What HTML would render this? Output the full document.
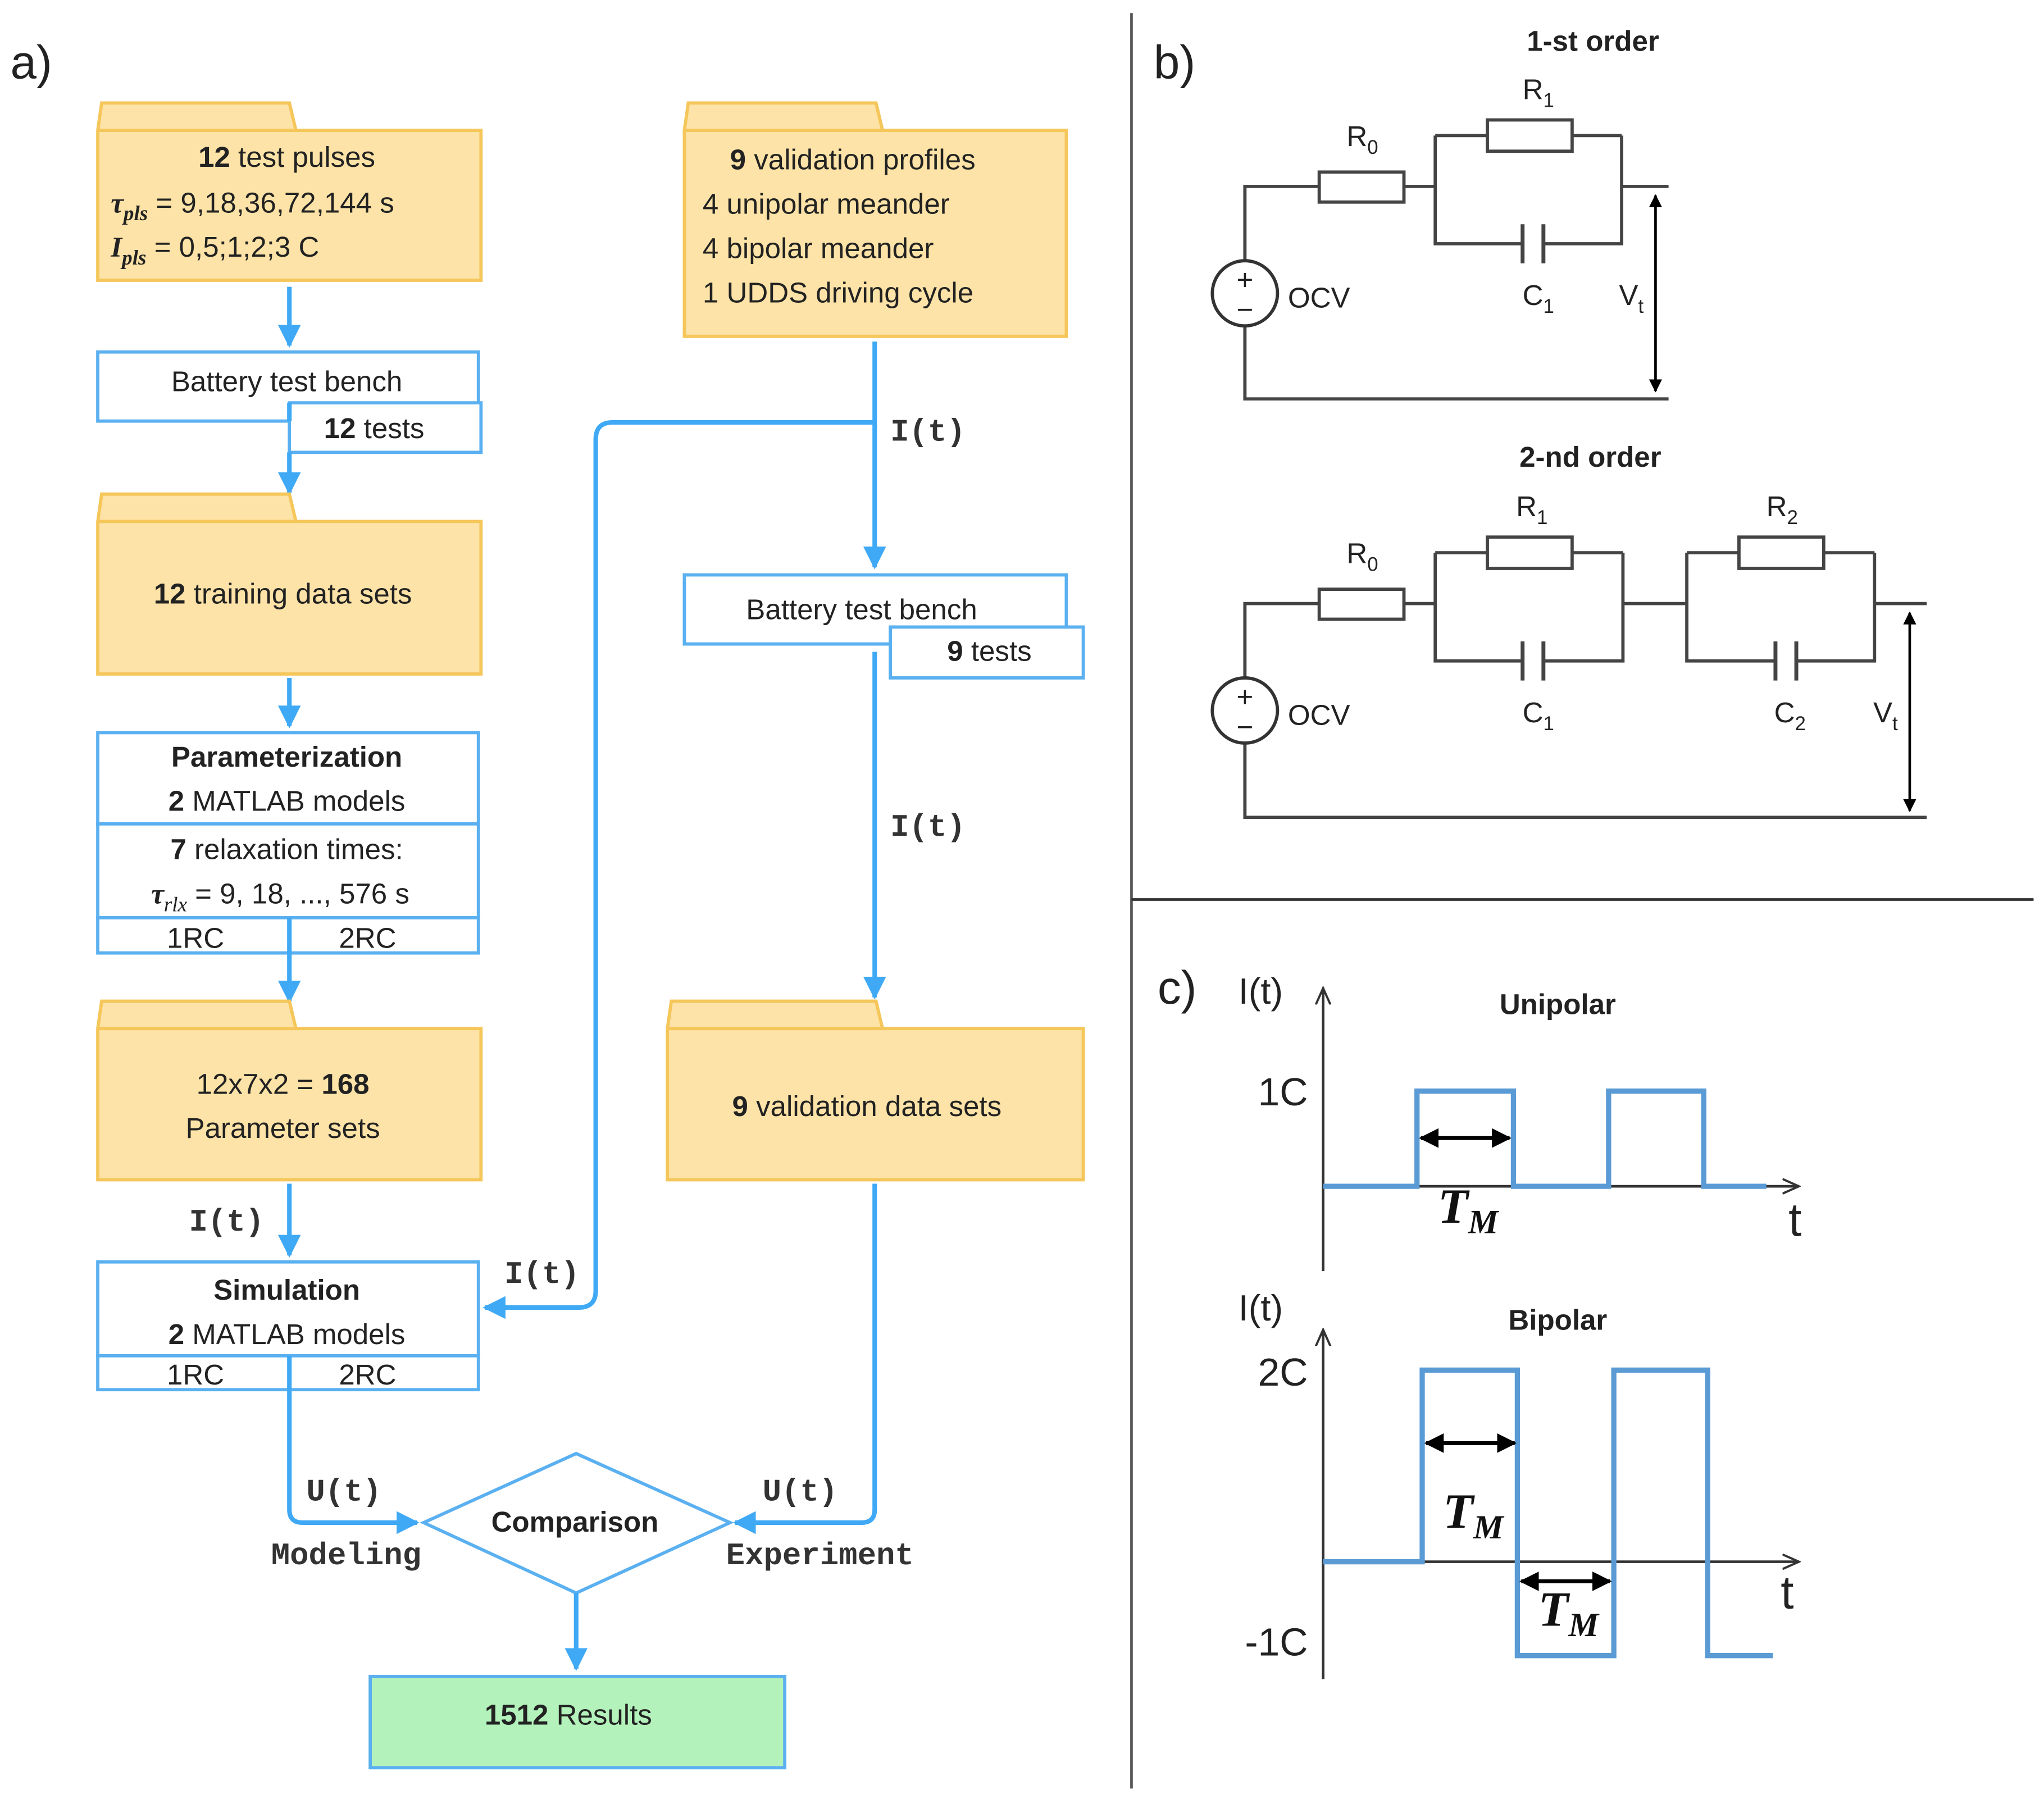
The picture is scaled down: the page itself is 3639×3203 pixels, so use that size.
<!DOCTYPE html>
<html><head><meta charset="utf-8"><style>
html,body{margin:0;padding:0;background:#fff}
svg{display:block}
text{font-family:"Liberation Sans",sans-serif;fill:#222}
.t{font-size:22px;text-anchor:middle}
.b{font-weight:bold}
.m{font-family:"Liberation Mono",monospace;font-size:24px;font-weight:bold;fill:#333}
.f{fill:#fde3a7;stroke:#f5c65a;stroke-width:2.5}
.bx{fill:#fff;stroke:#5ab0f0;stroke-width:2.5}
.ln{fill:none;stroke:#3fa9f5;stroke-width:3.5}
.w{fill:none;stroke:#444;stroke-width:2.5}
.sig{fill:none;stroke:#5b9bd5;stroke-width:4}
.tm{font-family:"Liberation Serif",serif;font-style:italic;font-weight:bold;font-size:38px;fill:#111}
.tms{font-family:"Liberation Serif",serif;font-style:italic;font-weight:bold;font-size:26px;fill:#111}
</style></head><body>
<svg width="3639" height="3203" viewBox="0 0 1568 1380" preserveAspectRatio="none" xmlns="http://www.w3.org/2000/svg">
<defs>
<marker id="ab" viewBox="0 0 10 10" refX="9" refY="5" markerWidth="5" markerHeight="5" orient="auto"><path d="M0,0 L10,5 L0,10 z" fill="#3fa9f5"/></marker>
<marker id="ak" viewBox="0 0 10 10" refX="9" refY="5" markerWidth="5" markerHeight="5" orient="auto-start-reverse"><path d="M0,0 L10,5 L0,10 z" fill="#000"/></marker>
<marker id="ao" viewBox="0 0 10 10" refX="9" refY="5" markerWidth="7" markerHeight="7" orient="auto"><path d="M0,1 L9,5 L0,9" fill="none" stroke="#333" stroke-width="1.2"/></marker>
</defs>
<rect width="1568" height="1380" fill="#fff"/>
<text x="8" y="60" style="font-size:36px">a)</text>
<text x="885" y="60" style="font-size:36px">b)</text>
<text x="888" y="770" style="font-size:36px">c)</text>
<line x1="868" y1="10" x2="868" y2="1372" stroke="#555" stroke-width="2"/>
<line x1="868" y1="690" x2="1560" y2="690" stroke="#333" stroke-width="2"/>

<!-- Folder 1 -->
<path class="f" d="M75,100 L78,79 L222,79 L227,100 L369,100 L369,215 L75,215 Z"/>
<line x1="75" y1="100" x2="227" y2="100" stroke="#f5c65a" stroke-width="2.5"/>
<text class="t" x="220" y="128"><tspan class="b">12</tspan> test pulses</text>
<text x="85" y="163" style="font-size:22px"><tspan style="font-family:'Liberation Serif',serif;font-style:italic;font-weight:bold">τ</tspan><tspan style="font-family:'Liberation Serif',serif;font-style:italic;font-weight:bold;font-size:16px" dy="6">pls</tspan><tspan dy="-6"> = 9,18,36,72,144 s</tspan></text>
<text x="85" y="197" style="font-size:22px"><tspan style="font-family:'Liberation Serif',serif;font-style:italic;font-weight:bold">I</tspan><tspan style="font-family:'Liberation Serif',serif;font-style:italic;font-weight:bold;font-size:16px" dy="6">pls</tspan><tspan dy="-6"> = 0,5;1;2;3 C</tspan></text>
<line class="ln" x1="222" y1="220" x2="222" y2="265" marker-end="url(#ab)"/>

<rect class="bx" x="75" y="270" width="292" height="53"/>
<text class="t" x="220" y="300">Battery test bench</text>
<rect class="bx" x="222" y="309" width="147" height="38"/>
<text class="t" x="287" y="336"><tspan class="b">12</tspan> tests</text>
<line class="ln" x1="222" y1="347" x2="222" y2="378" marker-end="url(#ab)"/>
<line class="ln" x1="222" y1="323" x2="222" y2="309"/>

<path class="f" d="M75,400 L78,379 L222,379 L227,400 L369,400 L369,517 L75,517 Z"/>
<line x1="75" y1="400" x2="227" y2="400" stroke="#f5c65a" stroke-width="2.5"/>
<text class="t" x="217" y="463"><tspan class="b">12</tspan> training data sets</text>
<line class="ln" x1="222" y1="520" x2="222" y2="557" marker-end="url(#ab)"/>

<rect class="bx" x="75" y="562" width="292" height="70"/>
<text class="t b" x="220" y="588">Parameterization</text>
<text class="t" x="220" y="622"><tspan class="b">2</tspan> MATLAB models</text>
<rect class="bx" x="75" y="632" width="292" height="72"/>
<text class="t" x="220" y="659"><tspan class="b">7</tspan> relaxation times:</text>
<text class="t" x="215" y="693"><tspan style="font-family:'Liberation Serif',serif;font-style:italic;font-weight:bold">τ</tspan><tspan style="font-family:'Liberation Serif',serif;font-style:italic;font-size:16px" dy="6">rlx</tspan><tspan dy="-6"> = 9, 18, ..., 576 s</tspan></text>
<rect class="bx" x="75" y="704" width="292" height="27"/>
<text class="t" x="150" y="727">1RC</text><text class="t" x="282" y="727">2RC</text>
<line class="ln" x1="222" y1="704" x2="222" y2="768" marker-end="url(#ab)"/>

<path class="f" d="M75,789 L78,768 L222,768 L227,789 L369,789 L369,905 L75,905 Z"/>
<line x1="75" y1="789" x2="227" y2="789" stroke="#f5c65a" stroke-width="2.5"/>
<text class="t" x="217" y="839">12x7x2 = <tspan class="b">168</tspan></text>
<text class="t" x="217" y="873">Parameter sets</text>
<line class="ln" x1="222" y1="908" x2="222" y2="963" marker-end="url(#ab)"/>
<text class="m" x="145" y="944">I(t)</text>

<rect class="bx" x="75" y="968" width="292" height="72"/>
<text class="t b" x="220" y="997">Simulation</text>
<text class="t" x="220" y="1031"><tspan class="b">2</tspan> MATLAB models</text>
<rect class="bx" x="75" y="1040" width="292" height="26"/>
<text class="t" x="150" y="1062">1RC</text><text class="t" x="282" y="1062">2RC</text>
<path class="ln" d="M222,1040 L222,1158 Q222,1168 232,1168 L320,1168" marker-end="url(#ab)"/>
<text class="m" x="235" y="1151">U(t)</text>
<text class="m" x="208" y="1200">Modeling</text>

<polygon points="325,1168 442,1115 560,1168 442,1222" fill="#fff" stroke="#5ab0f0" stroke-width="2.5"/>
<text class="t b" x="441" y="1175">Comparison</text>
<line class="ln" x1="442" y1="1222" x2="442" y2="1280" marker-end="url(#ab)"/>
<rect x="284" y="1286" width="318" height="70" fill="#b3f2bb" stroke="#5ab0f0" stroke-width="2.5"/>
<text class="t" x="436" y="1323"><tspan class="b">1512</tspan> Results</text>

<!-- right column -->
<path class="f" d="M525,100 L528,79 L672,79 L677,100 L818,100 L818,258 L525,258 Z"/>
<line x1="525" y1="100" x2="677" y2="100" stroke="#f5c65a" stroke-width="2.5"/>
<text x="560" y="130" style="font-size:22px"><tspan class="b">9</tspan> validation profiles</text>
<text x="539" y="164" style="font-size:22px">4 unipolar meander</text>
<text x="539" y="198" style="font-size:22px">4 bipolar meander</text>
<text x="539" y="232" style="font-size:22px">1 UDDS driving cycle</text>
<line class="ln" x1="671" y1="262" x2="671" y2="435" marker-end="url(#ab)"/>
<text class="m" x="683" y="338">I(t)</text>
<path class="ln" d="M671,324 L470,324 Q457,324 457,337 L457,990 Q457,1003 444,1003 L372,1003" marker-end="url(#ab)"/>
<text class="m" x="387" y="984">I(t)</text>

<rect class="bx" x="525" y="441" width="293" height="53"/>
<text class="t" x="661" y="475">Battery test bench</text>
<rect class="bx" x="683" y="481" width="148" height="39"/>
<text class="t" x="759" y="507"><tspan class="b">9</tspan> tests</text>
<line class="ln" x1="671" y1="500" x2="671" y2="765" marker-end="url(#ab)"/>
<text class="m" x="683" y="641">I(t)</text>

<path class="f" d="M512,789 L515,768 L672,768 L677,789 L831,789 L831,905 L512,905 Z"/>
<line x1="512" y1="789" x2="677" y2="789" stroke="#f5c65a" stroke-width="2.5"/>
<text class="t" x="665" y="856"><tspan class="b">9</tspan> validation data sets</text>
<path class="ln" d="M671,908 L671,1158 Q671,1168 661,1168 L564,1168" marker-end="url(#ab)"/>
<text class="m" x="585" y="1151">U(t)</text>
<text class="m" x="557" y="1200">Experiment</text>

<!-- 1st order circuit -->
<text class="t b" x="1222" y="39">1-st order</text>
<path class="w" d="M955,200 L955,143 L1012,143 M1077,143 L1101,143 M1101,104 L1141,104 M1206,104 L1244,104 M1101,104 L1101,187 L1168,187 M1184,187 L1244,187 L1244,104 M1244,143 L1280,143 M955,250 L955,306 L1280,306"/>
<rect x="1012" y="132" width="65" height="23" fill="#fff" stroke="#444" stroke-width="2.5"/>
<rect x="1141" y="92" width="65" height="24" fill="#fff" stroke="#444" stroke-width="2.5"/>
<line x1="1168" y1="172" x2="1168" y2="202" stroke="#444" stroke-width="3"/>
<line x1="1184" y1="172" x2="1184" y2="202" stroke="#444" stroke-width="3"/>
<circle cx="955" cy="225" r="25" fill="#fff" stroke="#333" stroke-width="2.5"/>
<text x="955" y="222" class="t" style="font-size:22px">+</text>
<text x="955" y="245" class="t" style="font-size:22px">−</text>
<line x1="1270" y1="150" x2="1270" y2="300" stroke="#000" stroke-width="2" marker-start="url(#ak)" marker-end="url(#ak)"/>
<text x="988" y="236" style="font-size:22px">OCV</text>
<text x="1033" y="112" style="font-size:22px">R<tspan dy="6" font-size="15">0</tspan></text>
<text x="1168" y="76" style="font-size:22px">R<tspan dy="6" font-size="15">1</tspan></text>
<text x="1168" y="234" style="font-size:22px">C<tspan dy="6" font-size="15">1</tspan></text>
<text x="1242" y="234" style="font-size:22px">V<tspan dy="6" font-size="15">t</tspan></text>

<!-- 2nd order circuit -->
<text class="t b" x="1220" y="358">2-nd order</text>
<path class="w" d="M955,520 L955,463 L1012,463 M1077,463 L1101,463 M1101,424 L1141,424 M1206,424 L1245,424 M1101,424 L1101,507 L1168,507 M1184,507 L1245,507 L1245,424 M1245,463 L1294,463 M1294,424 L1334,424 M1399,424 L1438,424 M1294,424 L1294,507 L1362,507 M1378,507 L1438,507 L1438,424 M1438,463 L1478,463 M955,570 L955,627 L1478,627"/>
<rect x="1012" y="452" width="65" height="23" fill="#fff" stroke="#444" stroke-width="2.5"/>
<rect x="1141" y="412" width="65" height="24" fill="#fff" stroke="#444" stroke-width="2.5"/>
<rect x="1334" y="412" width="65" height="24" fill="#fff" stroke="#444" stroke-width="2.5"/>
<line x1="1168" y1="492" x2="1168" y2="522" stroke="#444" stroke-width="3"/>
<line x1="1184" y1="492" x2="1184" y2="522" stroke="#444" stroke-width="3"/>
<line x1="1362" y1="492" x2="1362" y2="522" stroke="#444" stroke-width="3"/>
<line x1="1378" y1="492" x2="1378" y2="522" stroke="#444" stroke-width="3"/>
<circle cx="955" cy="545" r="25" fill="#fff" stroke="#333" stroke-width="2.5"/>
<text x="955" y="542" class="t" style="font-size:22px">+</text>
<text x="955" y="565" class="t" style="font-size:22px">−</text>
<line x1="1465" y1="470" x2="1465" y2="622" stroke="#000" stroke-width="2" marker-start="url(#ak)" marker-end="url(#ak)"/>
<text x="988" y="556" style="font-size:22px">OCV</text>
<text x="1033" y="432" style="font-size:22px">R<tspan dy="6" font-size="15">0</tspan></text>
<text x="1163" y="396" style="font-size:22px">R<tspan dy="6" font-size="15">1</tspan></text>
<text x="1355" y="396" style="font-size:22px">R<tspan dy="6" font-size="15">2</tspan></text>
<text x="1168" y="554" style="font-size:22px">C<tspan dy="6" font-size="15">1</tspan></text>
<text x="1361" y="554" style="font-size:22px">C<tspan dy="6" font-size="15">2</tspan></text>
<text x="1437" y="554" style="font-size:22px">V<tspan dy="6" font-size="15">t</tspan></text>

<!-- c) unipolar -->
<line x1="1015" y1="975" x2="1015" y2="758" stroke="#333" stroke-width="2" marker-end="url(#ao)"/>
<line x1="1015" y1="910" x2="1380" y2="910" stroke="#333" stroke-width="2" marker-end="url(#ao)"/>
<text x="950" y="770" style="font-size:28px">I(t)</text>
<text class="t b" x="1195" y="778">Unipolar</text>
<text x="965" y="848" style="font-size:30px">1C</text>
<text x="1372" y="948" style="font-size:36px">t</text>
<polyline class="sig" points="1015,910 1087,910 1087,837 1161,837 1161,910 1234,910 1234,837 1307,837 1307,910 1355,910"/>
<line x1="1090" y1="873" x2="1158" y2="873" stroke="#000" stroke-width="3" marker-start="url(#ak)" marker-end="url(#ak)"/>
<text class="tm" x="1103" y="938">T<tspan class="tms" dy="8">M</tspan></text>

<!-- c) bipolar -->
<line x1="1015" y1="1288" x2="1015" y2="1020" stroke="#333" stroke-width="2" marker-end="url(#ao)"/>
<line x1="1015" y1="1198" x2="1380" y2="1198" stroke="#333" stroke-width="2" marker-end="url(#ao)"/>
<text x="950" y="1013" style="font-size:28px">I(t)</text>
<text class="t b" x="1195" y="1020">Bipolar</text>
<text x="965" y="1063" style="font-size:30px">2C</text>
<text x="955" y="1270" style="font-size:30px">-1C</text>
<text x="1366" y="1234" style="font-size:36px">t</text>
<polyline class="sig" points="1015,1198 1091,1198 1091,1051 1164,1051 1164,1270 1238,1270 1238,1051 1310,1051 1310,1270 1360,1270"/>
<line x1="1094" y1="1107" x2="1162" y2="1107" stroke="#000" stroke-width="3" marker-start="url(#ak)" marker-end="url(#ak)"/>
<line x1="1167" y1="1213" x2="1235" y2="1213" stroke="#000" stroke-width="3" marker-start="url(#ak)" marker-end="url(#ak)"/>
<text class="tm" x="1107" y="1172">T<tspan class="tms" dy="8">M</tspan></text>
<text class="tm" x="1180" y="1247">T<tspan class="tms" dy="8">M</tspan></text>
</svg>
</body></html>
